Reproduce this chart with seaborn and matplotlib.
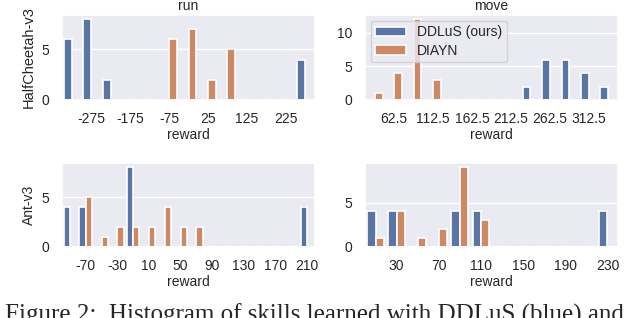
import pandas as pd
import matplotlib
matplotlib.use('Agg')
import matplotlib.pyplot as plt
import seaborn as sns

sns.set_theme(style="darkgrid")
plt.rcParams['font.family'] = ['Liberation Sans', 'DejaVu Sans']

methods = ['DDLuS (ours)', 'DIAYN']

# HalfCheetah-v3, run
hc_run_bins = ['-325', '-275', '-225', '-175', '-125', '-75', '-25', '25', '75', '125', '175', '225', '275']
hc_run_ddlus = [6, 8, 2, 0, 0, 0, 0, 0, 0, 0, 0, 0, 4]
hc_run_diayn = [0, 0, 0, 0, 0, 6, 7, 2, 5, 0, 0, 0, 0]

# HalfCheetah-v3, move
hc_move_bins = ['37.5', '62.5', '87.5', '112.5', '137.5', '162.5', '187.5', '212.5', '237.5',
                '262.5', '287.5', '312.5', '337.5']
hc_move_ddlus = [0, 0, 0, 0, 0, 0, 0, 0, 2, 6, 6, 4, 2]
hc_move_diayn = [1, 4, 12, 3, 0, 0, 0, 0, 0, 0, 0, 0, 0]

# Ant-v3, run
ant_run_bins = ['-90', '-70', '-50', '-30', '-10', '10', '30', '50', '70', '90', '110', '130',
                '150', '170', '190', '210']
ant_run_ddlus = [4, 4, 0, 0, 8, 0, 0, 0, 0, 0, 0, 0, 0, 0, 0, 4]
ant_run_diayn = [0, 5, 1, 2, 2, 2, 4, 2, 2, 0, 0, 0, 0, 0, 0, 0]

# Ant-v3, move
ant_move_bins = ['10', '30', '50', '70', '90', '110', '130', '150', '170', '190', '210', '230']
ant_move_ddlus = [4, 4, 0, 0, 4, 4, 0, 0, 0, 0, 0, 4]
ant_move_diayn = [1, 4, 1, 2, 9, 3, 0, 0, 0, 0, 0, 0]

y_ticks = [[0, 5], [0, 5, 10], [0, 5], [0, 5]]


def to_frame(bins, ddlus, diayn):
    return pd.DataFrame({
        'reward': bins + bins,
        'count': ddlus + diayn,
        'method': [methods[0]] * len(bins) + [methods[1]] * len(bins),
    })


panels = [
    (hc_run_bins, hc_run_ddlus, hc_run_diayn),
    (hc_move_bins, hc_move_ddlus, hc_move_diayn),
    (ant_run_bins, ant_run_ddlus, ant_run_diayn),
    (ant_move_bins, ant_move_ddlus, ant_move_diayn),
]

fig = plt.figure(figsize=(6.4, 3.18), dpi=100)
W, H = 640, 318
boxes = [(62, 15, 315, 100), (365, 15, 618, 100), (62, 163, 315, 247), (365, 163, 618, 247)]
fs = 10

for i, ((bins, ddlus, diayn), (x0, y0, x1, y1)) in enumerate(zip(panels, boxes)):
    ax = fig.add_axes([x0 / W, 1 - y1 / H, (x1 - x0) / W, (y1 - y0) / H])
    df = to_frame(bins, ddlus, diayn)
    sns.barplot(data=df, x='reward', y='count', hue='method', order=bins,
                hue_order=methods, palette='deep', edgecolor='white', linewidth=1.2,
                legend=(i == 1), ax=ax)
    ax.set_xticks(range(1, len(bins), 2))
    ax.set_xticklabels(bins[1::2], fontsize=fs)
    ax.set_yticks(y_ticks[i])
    ax.tick_params(axis='y', labelsize=fs, pad=3)
    ax.tick_params(axis='x', pad=3)
    ax.set_xlabel('reward', fontsize=fs, labelpad=1)
    ax.set_ylabel('')
    if i == 0:
        ax.set_ylabel('HalfCheetah-v3', fontsize=fs + 0.5, labelpad=4)
        ax.set_title('run', fontsize=fs, pad=3.5)
    if i == 1:
        ax.set_title('move', fontsize=fs, pad=3.5)
        ax.legend(loc='upper left', fontsize=fs, handlelength=2.2, borderaxespad=0.4,
                  borderpad=0.35, labelspacing=0.3)
    if i == 2:
        ax.set_ylabel('Ant-v3', fontsize=fs, labelpad=4)

fig.text(0.008, 1 - 304 / H, 'Figure 2:  Histogram of skills learned with DDLuS (blue) and',
         fontsize=18, family='Liberation Serif', va='top', ha='left')

fig.savefig('out.png', dpi=100)
